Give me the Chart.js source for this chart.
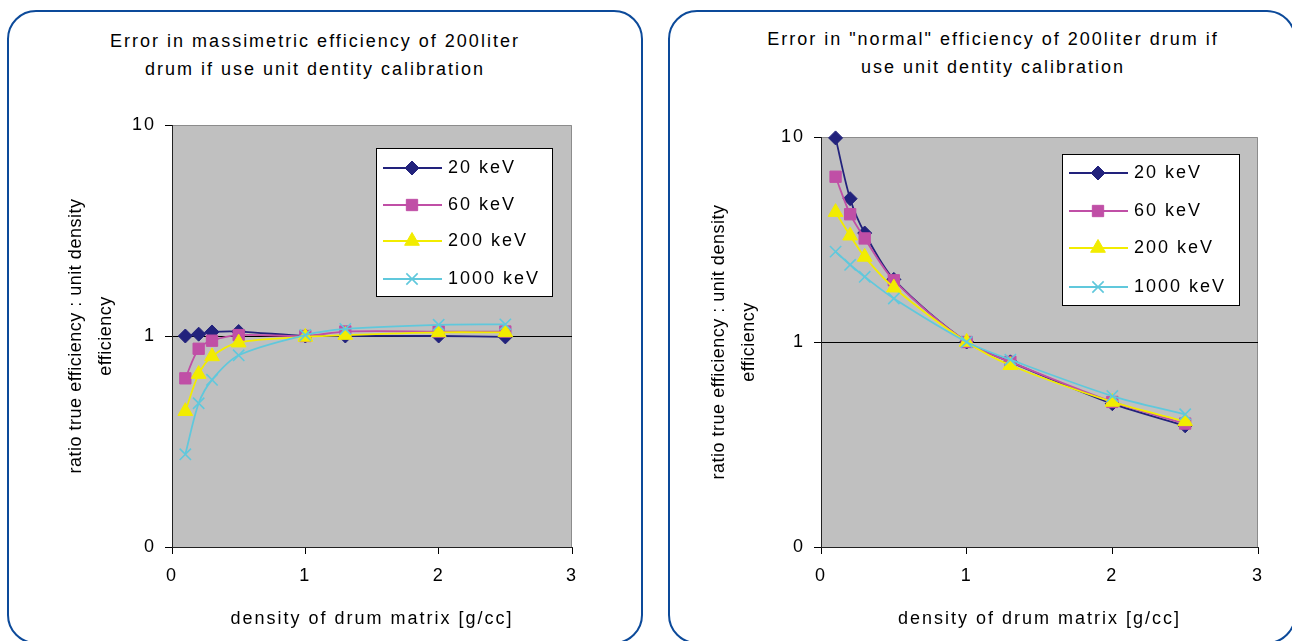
<!DOCTYPE html>
<html>
<head>
<meta charset="utf-8">
<script src="https://cdn.jsdelivr.net/npm/chart.js@4.4.1/dist/chart.umd.min.js"></script>
<style>
body { margin: 0; width: 1292px; height: 641px; overflow: hidden; background: #fff; position: relative;
       font-family: "Liberation Sans", Arial, sans-serif; }
.panel { position: absolute; box-sizing: border-box; border: 2.5px solid #0c4a9a; border-radius: 29px; }
.title { position: absolute; width: 600px; text-align: center; font-size: 18px; line-height: 28px;
         letter-spacing: 2px; color: #000; }
canvas { position: absolute; top: 0; }
</style>
</head>
<body>
<div class="panel" style="left:7px;top:10px;width:636px;height:634px"></div>
<div class="panel" style="left:668px;top:10px;width:628px;height:634px"></div>
<div class="title" id="title1" style="left:15px;top:27px"></div>
<div class="title" id="title2" style="left:693px;top:25px"></div>
<canvas id="massChart" width="646" height="641" style="left:0"></canvas>
<canvas id="normalChart" width="646" height="641" style="left:646px"></canvas>

<script>
// densities of the drum matrix [g/cc]
const densities = [0.1, 0.2, 0.3, 0.5, 1, 1.3, 2, 2.5];
const energies = ["20 keV", "60 keV", "200 keV", "1000 keV"];

// massimetric efficiency ratio
const mass20 = [1.0, 1.02, 1.045, 1.05, 1.0, 1.0, 1.0, 0.99];
const mass60 = [0.63, 0.87, 0.95, 1.01, 1.0, 1.05, 1.05, 1.05];
const mass200 = [0.44, 0.66, 0.80, 0.93, 0.99, 1.01, 1.04, 1.04];
const mass1000 = [0.275, 0.48, 0.62, 0.81, 1.01, 1.08, 1.13, 1.135];

// "normal" efficiency ratio
const norm20 = [9.9, 5.0, 3.4, 2.02, 1.0, 0.80, 0.50, 0.39];
const norm60 = [6.4, 4.2, 3.2, 2.0, 1.0, 0.80, 0.51, 0.40];
const norm200 = [4.3, 3.3, 2.6, 1.84, 1.0, 0.77, 0.51, 0.41];
const norm1000 = [2.76, 2.38, 2.08, 1.63, 1.0, 0.82, 0.545, 0.444];

const yTickValues = [0.1, 1, 10];
const yTickLabels = ["0", "1", "10"];
const xTickValues = [0, 1, 2, 3];

const title1 = ["Error in massimetric efficiency of 200liter", "drum if use unit dentity calibration"];
const title2 = ["Error in \"normal\" efficiency of 200liter drum if", "use unit dentity calibration"];
const yTitle = ["ratio true efficiency : unit density", "efficiency"];
const xTitle = "density of drum matrix [g/cc]";

const FONT = "'Liberation Sans', Arial, sans-serif";
const colors = ["#22227c", "#c04fa6", "#f2ec00", "#60c8dc"];
const markers = ["rectRot", "rect", "triangle", "crossRot"];
const markerSize = [7, 8, 8.5, 8];

document.getElementById("title1").innerHTML = title1.join("<br>");
document.getElementById("title2").innerHTML = title2.join("<br>");

function makeSets(series) {
    return series.map((vals, i) => ({
        label: energies[i],
        data: densities.map((d, j) => ({ x: d, y: vals[j] })),
        borderColor: colors[i],
        backgroundColor: colors[i],
        pointBackgroundColor: colors[i],
        pointBorderColor: colors[i],
        pointStyle: markers[i],
        pointRadius: markerSize[i],
        pointBorderWidth: i == 3 ? 1.6 : 1,
        borderWidth: 1.8,
        tension: 0.3,
        fill: false,
        clip: false,
        order: 3 - i
    }));
}

// grey plot area, grey top/right frame
const plotFrame = {
    id: "plotFrame",
    beforeDraw(chart) {
        const ctx = chart.ctx, a = chart.chartArea;
        ctx.save();
        ctx.fillStyle = "#c0c0c0";
        ctx.fillRect(a.left, a.top, a.right - a.left, a.bottom - a.top);
        ctx.strokeStyle = "#8c8c8c";
        ctx.lineWidth = 1;
        ctx.beginPath();
        ctx.moveTo(a.left, a.top + 0.5);
        ctx.lineTo(a.right - 0.5, a.top + 0.5);
        ctx.lineTo(a.right - 0.5, a.bottom);
        ctx.stroke();
        ctx.restore();
        ctx.letterSpacing = "2px";
    },
    afterLayout(chart) {
        const s = chart.scales.y;
        if (s._patched) return;
        const orig = s.drawTitle.bind(s);
        s.drawTitle = function () {
            const ls = this.ctx.letterSpacing;
            this.ctx.letterSpacing = "0.5px";
            orig();
            this.ctx.letterSpacing = ls;
        };
        s._patched = true;
    }
};

// boxed legend inside the plot area
const boxLegend = {
    id: "boxLegend",
    afterDraw(chart, args, o) {
        const ctx = chart.ctx, a = chart.chartArea;
        const x = a.left + o.dx, y = a.top + o.dy;
        ctx.save();
        ctx.fillStyle = "#fff";
        ctx.fillRect(x, y, o.w, o.h);
        ctx.strokeStyle = "#000";
        ctx.lineWidth = 1;
        ctx.strokeRect(x + 0.5, y + 0.5, o.w, o.h);
        chart.data.datasets.forEach((ds, i) => {
            const cy = y + o.rows[i];
            ctx.strokeStyle = ds.borderColor;
            ctx.lineWidth = ds.borderWidth;
            ctx.beginPath();
            ctx.moveTo(x + 7, cy);
            ctx.lineTo(x + 66, cy);
            ctx.stroke();
            ctx.fillStyle = ds.backgroundColor;
            ctx.lineWidth = ds.pointBorderWidth;
            Chart.helpers.drawPoint(ctx, {
                pointStyle: ds.pointStyle, radius: ds.pointRadius, rotation: 0, borderWidth: ds.pointBorderWidth
            }, x + 36, cy);
            ctx.fillStyle = "#000";
            ctx.font = "18px " + FONT;
            ctx.textBaseline = "middle";
            ctx.letterSpacing = "2px";
            ctx.fillText(ds.label, x + 72, cy);
        });
        ctx.restore();
    }
};

function makeChart(id, series, pad, yWidth, legend) {
    return new Chart(document.getElementById(id), {
        type: "line",
        data: { datasets: makeSets(series) },
        plugins: [plotFrame, boxLegend],
        options: {
            responsive: false,
            animation: false,
            layout: { padding: pad },
            plugins: {
                legend: { display: false },
                tooltip: { enabled: false },
                boxLegend: legend
            },
            scales: {
                x: {
                    type: "linear",
                    min: 0,
                    max: 3,
                    afterBuildTicks: s => { s.ticks = xTickValues.map(v => ({ value: v })); },
                    afterFit: s => { s.height = 94; },
                    grid: { drawOnChartArea: false, tickLength: 7, tickColor: "#000" },
                    border: { color: "#222", width: 1 },
                    ticks: { color: "#000", padding: 11, font: { size: 18, family: FONT } },
                    title: {
                        display: true, text: xTitle, color: "#000",
                        font: { size: 18, family: FONT }, padding: { top: 0, bottom: 11 }
                    }
                },
                y: {
                    type: "logarithmic",
                    min: 0.1,
                    max: 10,
                    afterBuildTicks: s => { s.ticks = yTickValues.map(v => ({ value: v })); },
                    afterFit: s => { s.width = yWidth; },
                    grid: {
                        color: c => (c.tick && c.tick.value === 1 ? "#000" : "rgba(0,0,0,0)"),
                        tickLength: 7, tickColor: "#000"
                    },
                    border: { color: "#222", width: 1 },
                    ticks: {
                        color: "#000", padding: 9, font: { size: 18, family: FONT },
                        callback: (v, i) => yTickLabels[i]
                    },
                    title: {
                        display: true, text: yTitle, color: "#000",
                        font: { size: 18, family: FONT, lineHeight: "30px" }, padding: { top: 0, bottom: 0 }
                    }
                }
            }
        }
    });
}

makeChart("massChart", [mass20, mass60, mass200, mass1000],
    { left: 61, right: 74, top: 125, bottom: 0 }, 111,
    { dx: 204, dy: 23, w: 176, h: 148, rows: [20, 57, 93, 131] });

makeChart("normalChart", [norm20, norm60, norm200, norm1000],
    { left: 58, right: 34, top: 137, bottom: 0 }, 117,
    { dx: 241, dy: 17, w: 177, h: 151, rows: [19, 57, 94, 133] });
</script>
</body>
</html>
